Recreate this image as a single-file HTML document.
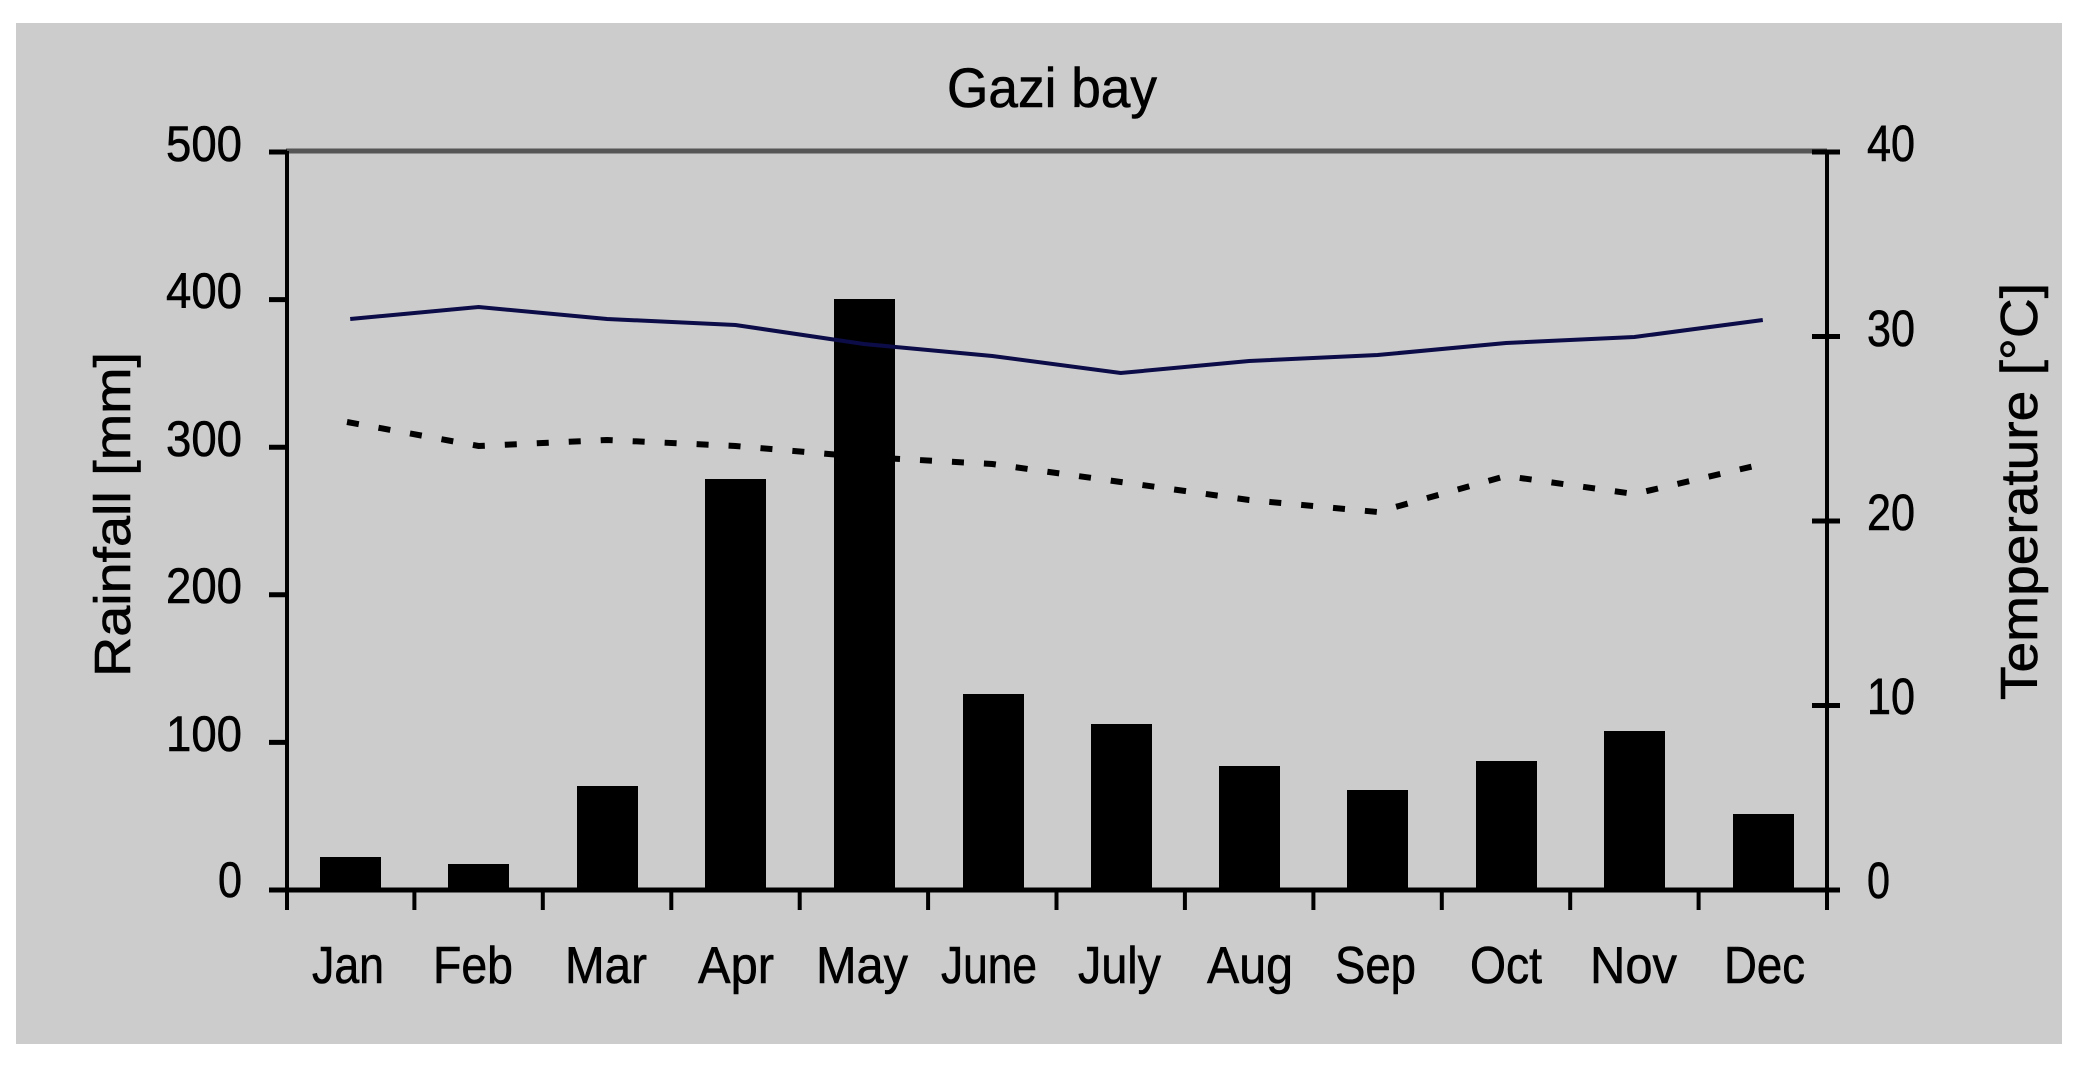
<!DOCTYPE html>
<html>
<head>
<meta charset="utf-8">
<style>
  html, body { margin: 0; padding: 0; background: #ffffff; }
  svg { display: block; }
  text { font-family: "Liberation Sans", Arial, sans-serif; fill: #000; stroke: #000; stroke-width: 0.6; }
</style>
</head>
<body>
<svg width="2079" height="1070" viewBox="0 0 2079 1070" xmlns="http://www.w3.org/2000/svg">
  <rect x="0" y="0" width="2079" height="1070" fill="#ffffff"/>
  <rect x="16" y="23" width="2046" height="1021" fill="#cccccc"/>

  <!-- Title -->
  <text x="947" y="107" font-size="56" textLength="210" lengthAdjust="spacingAndGlyphs">Gazi bay</text>

  <!-- Bars -->
  <g fill="#000">
    <rect x="320" y="857" width="61" height="33"/>
    <rect x="448" y="864" width="61" height="26"/>
    <rect x="577" y="786" width="61" height="104"/>
    <rect x="705" y="479" width="61" height="411"/>
    <rect x="834" y="299" width="61" height="591"/>
    <rect x="963" y="694" width="61" height="196"/>
    <rect x="1091" y="724" width="61" height="166"/>
    <rect x="1219" y="766" width="61" height="124"/>
    <rect x="1347" y="790" width="61" height="100"/>
    <rect x="1476" y="761" width="61" height="129"/>
    <rect x="1604" y="731" width="61" height="159"/>
    <rect x="1733" y="814" width="61" height="76"/>
  </g>

  <!-- Solid temperature line (navy) -->
  <polyline fill="none" stroke="#0c0c48" stroke-width="4" stroke-linejoin="miter"
    points="350.2,319 478.6,307 607.1,319 735.5,325 863.9,344 992.3,356 1120.7,373 1249.1,361 1377.6,355 1506,343 1634.4,337 1762.8,320"/>

  <!-- Dotted temperature line -->
  <polyline fill="none" stroke="#000" stroke-width="6" stroke-dasharray="12 20"
    points="347,422 478.6,446 607.1,440 735.5,446 863.9,457 992.3,464 1120.7,482 1249.1,500 1377.6,512 1506,476 1634.4,494 1762.8,464"/>

  <!-- Top frame line -->
  <line x1="286" y1="151" x2="1827" y2="151" stroke="#555555" stroke-width="5"/>

  <!-- Axes -->
  <line x1="287" y1="151" x2="287" y2="910" stroke="#000" stroke-width="4"/>
  <line x1="1827" y1="151" x2="1827" y2="910" stroke="#000" stroke-width="4"/>
  <line x1="269" y1="890" x2="1840" y2="890" stroke="#000" stroke-width="5"/>

  <!-- Left ticks -->
  <g stroke="#000" stroke-width="5">
    <line x1="269" y1="152" x2="287" y2="152"/>
    <line x1="269" y1="299.6" x2="287" y2="299.6"/>
    <line x1="269" y1="447.2" x2="287" y2="447.2"/>
    <line x1="269" y1="594.8" x2="287" y2="594.8"/>
    <line x1="269" y1="742.4" x2="287" y2="742.4"/>
  </g>
  <!-- Right ticks -->
  <g stroke="#000" stroke-width="5">
    <line x1="1812" y1="152" x2="1840" y2="152"/>
    <line x1="1812" y1="336.5" x2="1840" y2="336.5"/>
    <line x1="1812" y1="521" x2="1840" y2="521"/>
    <line x1="1812" y1="705.5" x2="1840" y2="705.5"/>
  </g>
  <!-- Bottom ticks -->
  <g stroke="#000" stroke-width="4">
    <line x1="414.4" y1="890" x2="414.4" y2="910"/>
    <line x1="542.8" y1="890" x2="542.8" y2="910"/>
    <line x1="671.3" y1="890" x2="671.3" y2="910"/>
    <line x1="799.7" y1="890" x2="799.7" y2="910"/>
    <line x1="928.1" y1="890" x2="928.1" y2="910"/>
    <line x1="1056.5" y1="890" x2="1056.5" y2="910"/>
    <line x1="1184.9" y1="890" x2="1184.9" y2="910"/>
    <line x1="1313.4" y1="890" x2="1313.4" y2="910"/>
    <line x1="1441.8" y1="890" x2="1441.8" y2="910"/>
    <line x1="1570.2" y1="890" x2="1570.2" y2="910"/>
    <line x1="1698.6" y1="890" x2="1698.6" y2="910"/>
  </g>

  <!-- Left tick labels -->
  <g font-size="50">
    <text x="166" y="161" textLength="76" lengthAdjust="spacingAndGlyphs">500</text>
    <text x="166" y="308" textLength="76" lengthAdjust="spacingAndGlyphs">400</text>
    <text x="166" y="456" textLength="76" lengthAdjust="spacingAndGlyphs">300</text>
    <text x="166" y="603" textLength="76" lengthAdjust="spacingAndGlyphs">200</text>
    <text x="166" y="751" textLength="76" lengthAdjust="spacingAndGlyphs">100</text>
    <text x="218" y="897" textLength="24" lengthAdjust="spacingAndGlyphs">0</text>
  </g>

  <!-- Right tick labels -->
  <g font-size="51">
    <text x="1867" y="161" textLength="48" lengthAdjust="spacingAndGlyphs">40</text>
    <text x="1867" y="346" textLength="48" lengthAdjust="spacingAndGlyphs">30</text>
    <text x="1867" y="530" textLength="48" lengthAdjust="spacingAndGlyphs">20</text>
    <text x="1867" y="714" textLength="48" lengthAdjust="spacingAndGlyphs">10</text>
    <text x="1867" y="898" textLength="23" lengthAdjust="spacingAndGlyphs">0</text>
  </g>

  <!-- Month labels -->
  <g font-size="52">
    <text x="312" y="983" textLength="72" lengthAdjust="spacingAndGlyphs">Jan</text>
    <text x="433" y="983" textLength="80" lengthAdjust="spacingAndGlyphs">Feb</text>
    <text x="565" y="983" textLength="82" lengthAdjust="spacingAndGlyphs">Mar</text>
    <text x="698" y="983" textLength="76" lengthAdjust="spacingAndGlyphs">Apr</text>
    <text x="816" y="983" textLength="92" lengthAdjust="spacingAndGlyphs">May</text>
    <text x="941" y="983" textLength="96" lengthAdjust="spacingAndGlyphs">June</text>
    <text x="1078" y="983" textLength="83" lengthAdjust="spacingAndGlyphs">July</text>
    <text x="1207" y="983" textLength="86" lengthAdjust="spacingAndGlyphs">Aug</text>
    <text x="1335" y="983" textLength="81" lengthAdjust="spacingAndGlyphs">Sep</text>
    <text x="1470" y="983" textLength="72" lengthAdjust="spacingAndGlyphs">Oct</text>
    <text x="1590" y="983" textLength="87" lengthAdjust="spacingAndGlyphs">Nov</text>
    <text x="1724" y="983" textLength="81" lengthAdjust="spacingAndGlyphs">Dec</text>
  </g>

  <!-- Axis titles -->
  <text transform="translate(130,677) rotate(-90)" x="0" y="0" font-size="51" textLength="325" lengthAdjust="spacingAndGlyphs">Rainfall [mm]</text>
  <text transform="translate(2037,700) rotate(-90)" x="0" y="0" font-size="52" textLength="417" lengthAdjust="spacingAndGlyphs">Temperature [°C]</text>
</svg>
</body>
</html>
